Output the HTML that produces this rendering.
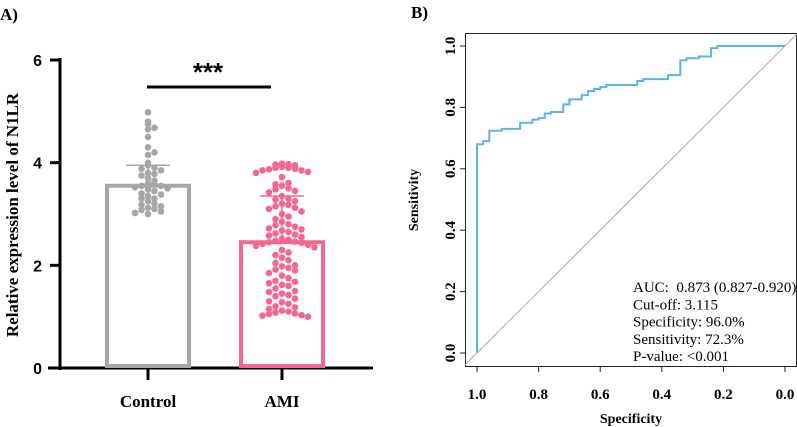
<!DOCTYPE html>
<html><head><meta charset="utf-8"><style>
html,body{margin:0;padding:0;background:#fff;width:797px;height:427px;overflow:hidden}
svg{display:block}
.bs{font-family:"Liberation Sans",sans-serif;font-weight:bold}
.sf{font-family:"Liberation Serif",serif}
</style></head><body>
<svg id="fig" width="797" height="427" viewBox="0 0 797 427" xmlns="http://www.w3.org/2000/svg">
<text x="0" y="20" class="sf" font-weight="bold" font-size="17">A)</text>
<text x="411" y="18" class="sf" font-weight="bold" font-size="17">B)</text>
<g id="barChart"></g>
<g id="rocChart"></g>
</svg>
<script>
// ---- Panel A data ----
const categories = ["Control", "AMI"];
const barMeans = [3.55, 2.45];
const barSDs = [0.40, 0.90];
const yTicks = [0, 2, 4, 6];
const controlValues = [4.98,4.8,4.75,4.68,4.65,4.5,4.3,4.2,4.15,4.0,3.95,3.9,3.88,3.85,3.8,3.78,3.75,3.7,3.65,3.6,3.58,3.55,3.55,3.52,3.5,3.48,3.45,3.4,3.38,3.35,3.3,3.3,3.25,3.2,3.18,3.15,3.12,3.1,3.08,3.05,3.02,3.0];
const amiValues = [3.98,3.97,3.96,3.95,3.92,3.9,3.9,3.88,3.87,3.85,3.85,3.82,3.8,3.72,3.6,3.58,3.55,3.5,3.48,3.45,3.42,3.35,3.3,3.28,3.25,3.2,3.18,3.15,3.12,3.1,3.05,3.0,2.95,2.9,2.85,2.8,2.78,2.75,2.72,2.7,2.68,2.65,2.62,2.6,2.58,2.55,2.52,2.5,2.48,2.46,2.45,2.44,2.42,2.4,2.38,2.35,2.3,2.25,2.2,2.15,2.1,2.05,2.0,1.98,1.95,1.92,1.9,1.85,1.8,1.75,1.7,1.68,1.65,1.62,1.6,1.55,1.5,1.48,1.45,1.42,1.4,1.35,1.3,1.28,1.25,1.2,1.18,1.15,1.12,1.1,1.08,1.06,1.05,1.03,1.02,1.0];
// ---- Panel B data ----
const rocSpec = [1.0,1.0,0.98,0.98,0.96,0.96,0.92,0.92,0.86,0.86,0.82,0.82,0.80,0.80,0.78,0.78,0.76,0.76,0.72,0.72,0.70,0.70,0.66,0.66,0.64,0.64,0.62,0.62,0.60,0.60,0.58,0.58,0.48,0.48,0.46,0.46,0.38,0.38,0.34,0.34,0.32,0.32,0.28,0.28,0.24,0.24,0.22,0.22,0.0];
const rocSens = [0.0,0.68,0.68,0.69,0.69,0.724,0.724,0.73,0.73,0.75,0.75,0.76,0.76,0.765,0.765,0.78,0.78,0.785,0.785,0.81,0.81,0.826,0.826,0.84,0.84,0.853,0.853,0.86,0.86,0.866,0.866,0.873,0.873,0.886,0.886,0.892,0.892,0.905,0.905,0.953,0.953,0.96,0.96,0.966,0.966,0.993,0.993,1.0,1.0];
const rocTicks = [1.0,0.8,0.6,0.4,0.2,0.0];
const statLines = ["AUC:\u00a0\u00a00.873 (0.827-0.920)","Cut-off: 3.115","Specificity: 96.0%","Sensitivity: 72.3%","P-value: <0.001"];

const NS="http://www.w3.org/2000/svg";
function mk(tag, attrs, parent, text){const e=document.createElementNS(NS,tag);for(const k in attrs)e.setAttribute(k,attrs[k]);if(text!==undefined)e.textContent=text;parent.appendChild(e);return e;}

// Panel A
const A=document.getElementById('barChart');
const yA=v=>368-v*51.33;
const xA=[148,282];
const colors=["#a6a6a6","#f4678f"];
let e;
e=mk('line',{x1:60,y1:58,x2:60,y2:370,stroke:"#000","stroke-width":3},A);


e=mk('line',{x1:48,y1:368,x2:373,y2:368,stroke:"#000","stroke-width":3},A);


yTicks.forEach(t=>{
  e=mk('line',{x1:50,y1:yA(t),x2:60,y2:yA(t),stroke:"#000","stroke-width":3},A);
  
  
  e=mk('text',{x:42,y:yA(t)+6,"text-anchor":"end","font-size":16,class:"bs"},A,String(t));
  
  
});
e=mk('text',{transform:"translate(18,215) rotate(-90)","text-anchor":"middle","font-size":17,class:"sf","font-weight":"bold"},A,"Relative expression level of N1LR");


categories.forEach((c,i)=>{
  e=mk('line',{x1:xA[i],y1:368,x2:xA[i],y2:380,stroke:"#000","stroke-width":3},A);
  
  
  e=mk('text',{x:xA[i],y:407,"text-anchor":"middle","font-size":17,class:"sf","font-weight":"bold"},A,c);
  
  
  const top=yA(barMeans[i]);
  e=mk('rect',{x:xA[i]-41,y:top,width:82,height:366-top,fill:"none",stroke:colors[i],"stroke-width":4},A);
  
  
});
function swarm(vals,cx,col,name,bw){
  const bins={};
  vals.forEach(v=>{
    const b=Math.round(yA(v)/bw);
    const n=bins[b]||0; bins[b]=n+1;
    const off=(n===0)?0:(n%2?1:-1)*Math.ceil(n/2)*6.5;
    e=mk('circle',{cx:cx+off,cy:yA(v),r:3.3,fill:col},A);
    
    
  });
}
swarm(controlValues,xA[0],colors[0],'control-point',6);
swarm(amiValues,xA[1],colors[1],'ami-point',9);
categories.forEach((c,i)=>{
  const yy=yA(barMeans[i]+barSDs[i]);
  e=mk('line',{x1:xA[i]-22,y1:yy,x2:xA[i]+22,y2:yy,stroke:colors[i],"stroke-width":1.5},A);
  
  
  e=mk('line',{x1:xA[i],y1:yy,x2:xA[i],y2:yA(barMeans[i]),stroke:colors[i],"stroke-width":1.5},A);
  
  
});
e=mk('line',{x1:147,y1:87,x2:271,y2:87,stroke:"#000","stroke-width":3},A);


e=mk('text',{x:208,y:81,"text-anchor":"middle","font-size":26,class:"bs"},A,"***");



// Panel B
const B=document.getElementById('rocChart');
const xB=s=>785-s*308;
const yB=v=>353-v*307;
e=mk('rect',{x:465.5,y:33.5,width:331,height:333,fill:"none",stroke:"#222","stroke-width":1},B);


e=mk('line',{x1:xB(1.04),y1:yB(-0.04),x2:xB(-0.04),y2:yB(1.04),stroke:"#aaa","stroke-width":1},B);


rocTicks.forEach(t=>{
  e=mk('line',{x1:xB(t),y1:367,x2:xB(t),y2:372,stroke:"#222"},B);
  
  
  e=mk('text',{x:xB(t),y:399,"text-anchor":"middle","font-size":15,class:"sf","font-weight":"bold"},B,t.toFixed(1));
  
  
  e=mk('line',{x1:460,y1:yB(t),x2:465,y2:yB(t),stroke:"#222"},B);
  
  
  e=mk('text',{transform:`translate(${455},${yB(t)}) rotate(-90)`,"text-anchor":"middle","font-size":15,class:"sf","font-weight":"bold"},B,t.toFixed(1));
  
  
});
e=mk('text',{x:631,y:423,"text-anchor":"middle","font-size":14,class:"sf","font-weight":"bold"},B,"Specificity");


e=mk('text',{transform:"translate(418,200) rotate(-90)","text-anchor":"middle","font-size":14,class:"sf","font-weight":"bold"},B,"Sensitivity");


e=mk('polyline',{points:rocSpec.map((s,i)=>xB(s)+","+yB(rocSens[i])).join(" "),fill:"none",stroke:"#5bb4e5","stroke-width":2},B);


statLines.forEach((t,i)=>{
  e=mk('text',{x:633,y:292+i*17.3,"font-size":15,class:"sf"},B,t);
  
  
});
</script>
</body></html>
